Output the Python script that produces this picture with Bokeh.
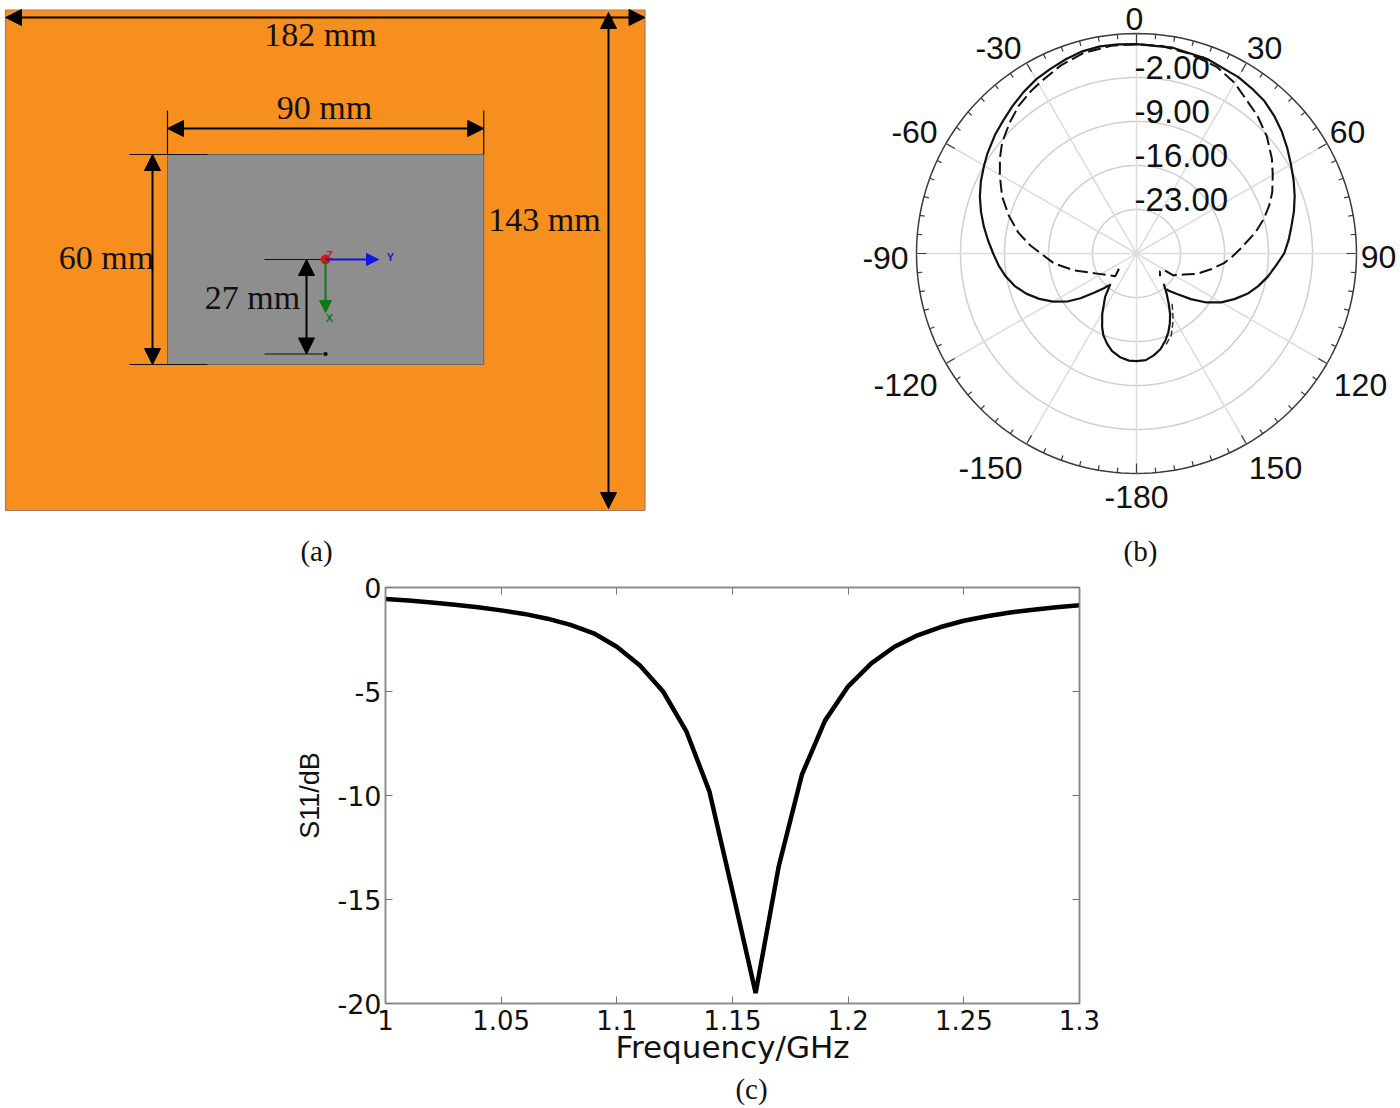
import numpy as np
from bokeh.embed import file_html
from bokeh.resources import INLINE
from bokeh.plotting import figure
from bokeh.layouts import column, row
from bokeh.models import Range1d, Arrow, NormalHead, LinearAxis, FixedTicker
from bokeh.core.properties import value

# ---- panel (c) data
freq = [1.0,1.01,1.02,1.03,1.04,1.05,1.06,1.07,1.08,1.09,1.10,1.11,1.12,1.13,1.14,1.15,1.16,
        1.17,1.18,1.19,1.20,1.21,1.22,1.23,1.24,1.25,1.26,1.27,1.28,1.29,1.30]
s11 = [-0.55,-0.63,-0.72,-0.83,-0.95,-1.10,-1.27,-1.50,-1.80,-2.20,-2.85,-3.75,-5.0,-6.9,-9.8,-14.6,-19.5,
       -13.4,-9.0,-6.4,-4.75,-3.65,-2.85,-2.3,-1.9,-1.6,-1.38,-1.2,-1.07,-0.95,-0.85]
x_ticks = [1.0,1.05,1.1,1.15,1.2,1.25,1.3]
x_tick_labels = ["1","1.05","1.1","1.15","1.2","1.25","1.3"]
y_ticks = [-20,-15,-10,-5,0]
y_tick_labels = ["-20","-15","-10","-5","0"]

# ---- panel (b) data: angle in degrees (clockwise from top), gain in dB
main_ang = [-139,-136.7,-133,-128.6,-125,-120,-115,-110,-105,-100,-95,-90,-85,-80,-75,-70,-65,-60,-56,-50,-45,-40,-35,-30,
            -25,-20,-15,-10,-5,0,10,20,30,35,40,45,50,55,60,65,70,75,80,85,90,95,100,105,110,115,120,125,130,135,139,140]
main_db = [-23.3,-22.42,-20.88,-18.6,-16.74,-14.67,-12.92,-11.33,-9.95,-8.89,-7.99,-7.2,-6.30,-5.34,-4.39,-3.48,-2.69,-2.0,-1.42,-0.62,-0.04,0.65,1.34,1.98,
           2.40,2.88,3.30,3.46,3.41,3.30,3.25,2.93,2.40,2.03,1.66,0.97,0.17,-0.73,-1.63,-2.42,-3.22,-4.07,-4.97,-5.71,-6.51,-7.73,-8.79,-9.95,-11.23,-12.82,-14.46,-16.42,-18.7,-20.88,-22.15,-22.6]
lobe_ang = [-139.4,-144,-150.4,-155,-158,-162,-166,-171,-176,180,175,170.4,166,161.6,158,154.6,151,147.3,143,138]
lobe_db = [-23.64,-21.52,-18.97,-17.06,-15.95,-14.89,-13.98,-13.3,-12.92,-12.87,-12.98,-13.56,-14.3,-15.42,-16.48,-17.64,-18.97,-20.51,-22.05,-23.53]
dash_ang = [-131,-137,-117,-105,-96.7,-85.7,-80,-73.4,-67,-60.3,-55,-50.4,-44,-38.5,-33,-28.6,-22,-15,-7,0,7,15,23.4,30,41.2,48,55,60,65.7,70,74.8,80,87.4,92,96.3,102,108.5,114,120.6,121,127,134]
dash_db = [-26.29,-25.07,-22.95,-19.66,-16.74,-13.08,-10.91,-8.79,-6.77,-4.97,-3.48,-2.27,-0.99,0.07,0.81,1.34,2.24,2.98,3.30,3.30,3.25,2.88,2.30,1.29,-0.83,-2.11,-3.70,-4.97,-6.30,-7.52,-9.0,-10.80,-13.45,-14.78,-16.0,-17.91,-19.82,-21.78,-23.19,-24.8,-25.33,-24.8]
dash_lobe_ang = [144.7,151.3,157,162.5]
dash_lobe_db = [-20.19,-17.86,-15.84,-14.67]
ring_db = [-23,-16,-9,-2,5]
ring_labels = ["-23.00","-16.00","-9.00","-2.00"]
angle_ticks = [0,30,60,90,120,150,180,-150,-120,-90,-60,-30]
angle_labels = ["0","30","60","90","120","150","-180","-150","-120","-90","-60","-30"]
# where the angle labels sit on the page, px
angle_label_px = [1134,1264,1347,1378,1360,1275,1136,990,905,885,914,998]
angle_label_py = [18,47,131,256,384,467,496,467,384,257,131,47]

# ---- panel (a) data, mm
ground = (182, 143)
patch = (90, 60)
feed_offset = 27

FONT = value("Liberation Sans")
SERIF = value("Liberation Serif")

def blank(w, h, xr, yr):
    p = figure(width=w, height=h, x_range=Range1d(*xr), y_range=Range1d(*yr), output_backend="svg",
               toolbar_location=None, min_border=0, outline_line_color=None, background_fill_color="white")
    p.axis.visible = False
    p.grid.visible = False
    return p

# ================= (a)
sxa, sya = 639.5/182, 500.5/143
pa = blank(700, 570, (-5/sxa, 695/sxa), (-60/sya, 510/sya))
px = lambda v: (v-5)/sxa
py = lambda v: (510-v)/sya
pa.quad(left=[0], right=[ground[0]], bottom=[0], top=[ground[1]], fill_color="#F78F1E", line_color="#B07A55", line_width=1.2)
pxl, pyb = px(167), py(364)
pa.quad(left=[pxl], right=[pxl+patch[0]], bottom=[pyb], top=[pyb+patch[1]], fill_color="#8E8E8E", line_color="#666666", line_width=1)
oy = py(259)
ox = px(325)
pa.segment(x0=[px(129),px(129),pxl,pxl+patch[0],px(264),px(264)],
           y0=[pyb+patch[1],pyb,pyb+patch[1],pyb+patch[1],oy,oy-feed_offset],
           x1=[px(207),px(207),pxl,pxl+patch[0],ox,px(322)],
           y1=[pyb+patch[1],pyb,py(110),py(110),oy,oy-feed_offset],
           line_color="#111111", line_width=1.2)

def arrow2(x0, y0, x1, y1, size=16):
    h1 = NormalHead(size=size, fill_color="black", line_color="black")
    h2 = NormalHead(size=size, fill_color="black", line_color="black")
    pa.add_layout(Arrow(start=h1, end=h2, x_start=x0, y_start=y0, x_end=x1, y_end=y1, line_color="black", line_width=2))

arrow2(0, py(17), ground[0], py(17))
arrow2(px(608), py(12), px(608), py(508))
arrow2(pxl, py(128), pxl+patch[0], py(128))
arrow2(px(152), pyb+patch[1], px(152), pyb)
arrow2(px(306), oy, px(306), oy-feed_offset)
pa.add_layout(Arrow(end=NormalHead(size=12, fill_color="#1515E0", line_color="#1515E0"), x_start=ox, y_start=oy, x_end=px(378), y_end=oy, line_color="#1515E0", line_width=2))
pa.add_layout(Arrow(end=NormalHead(size=12, fill_color="#0B7A16", line_color="#0B7A16"), x_start=ox, y_start=oy, x_end=ox, y_end=py(312), line_color="#0B7A16", line_width=2))
pa.scatter(x=[ox], y=[oy], size=9, color="#E01010")
pa.scatter(x=[ox], y=[oy-feed_offset], size=3.5, color="#111111")
pa.text(x=[px(390),px(329),px(329)], y=[py(256),py(317),py(254)], text=["Y","X","Z"],
        text_color=["#1515E0","#0B7A16","#E01010"], text_font=FONT, text_font_size="11px", text_font_style="bold",
        text_align="center", text_baseline="middle")
pa.text(x=[px(320),px(324),px(544),px(106),px(252)], y=[py(34),py(107),py(219),py(257),py(297)],
        text=["182 mm","90 mm","143 mm","60 mm","27 mm"], text_font=SERIF, text_font_size="34px",
        text_align="center", text_baseline="middle", text_color="#111111")
pa.text(x=[px(316)], y=[py(550)], text=["(a)"], text_font=SERIF, text_font_size="29px",
        text_align="center", text_baseline="middle", text_color="#111111")

# ================= (b)
S = 44/7           # px per dB
CX, CY = 1136, 253
pb = blank(700, 570, ((700-CX)/S, (1400-CX)/S), ((CY-570)/S, CY/S))
def polar(ang, db):
    a = np.radians(np.asarray(ang, float)); r = np.asarray(db, float)+30
    return r*np.sin(a), r*np.cos(a)
theta = np.arange(0, 361, 2.0)
for d in ring_db:
    x, y = polar(theta, np.full_like(theta, d))
    pb.line(x, y, line_color="#3a3a3a" if d == ring_db[-1] else "#cfcfcf", line_width=1.5)
xs, ys = polar(angle_ticks, [ring_db[-1]]*len(angle_ticks))
pb.segment(x0=[0]*len(xs), y0=[0]*len(ys), x1=xs, y1=ys, line_color="#dcdcdc", line_width=1.5)
tk = np.arange(-180, 180, 5.0)
inner = np.where(tk % 30 == 0, ring_db[-1]-10/S, ring_db[-1]-5/S)
x0, y0 = polar(tk, inner)
x1, y1 = polar(tk, [ring_db[-1]]*len(tk))
pb.segment(x0=x0, y0=y0, x1=x1, y1=y1, line_color="#3a3a3a", line_width=1.2)
x, y = polar(main_ang, main_db); pb.line(x, y, line_color="#111111", line_width=2.2, line_join="round")
x, y = polar(lobe_ang, lobe_db); pb.line(x, y, line_color="#111111", line_width=2.2, line_join="round")
x, y = polar(dash_ang, dash_db); pb.line(x, y, line_color="#111111", line_width=2, line_dash="13 5")
x, y = polar(dash_lobe_ang, dash_lobe_db); pb.line(x, y, line_color="#333333", line_width=1.5, line_dash="6 3")
lx = [(v-CX)/S for v in angle_label_px]
ly = [(CY-v)/S for v in angle_label_py]
pb.text(x=lx, y=ly, text=angle_labels, text_font=FONT, text_font_size="32px", text_align="center",
        text_baseline="middle", text_color="#111111")
pb.text(x=[-0.3]*4, y=[d+30+9/S+0.2 for d in ring_db[:4]], text=ring_labels, text_font=FONT, text_font_size="33px",
        text_align="left", text_baseline="middle", text_color="#111111")
pb.text(x=[(1140-CX)/S], y=[(CY-550)/S], text=["(b)"], text_font=SERIF, text_font_size="29px",
        text_align="center", text_baseline="middle", text_color="#111111")

# ================= (c)
pc = figure(width=1400, height=538, x_range=Range1d(1.0, 1.3), y_range=Range1d(-20, 0), output_backend="svg",
            toolbar_location=None, min_border_left=385, min_border_right=321, min_border_top=17, min_border_bottom=105,
            outline_line_color="#888888", outline_line_width=1.5, background_fill_color="white")
pc.grid.visible = False
xa, ya = pc.xaxis[0], pc.yaxis[0]
xa.ticker = FixedTicker(ticks=x_ticks)
xa.major_label_overrides = dict(zip(x_ticks, x_tick_labels))
ya.ticker = FixedTicker(ticks=y_ticks)
ya.major_label_overrides = dict(zip(y_ticks, y_tick_labels))
for ax in (xa, ya):
    ax.major_tick_in = 7; ax.major_tick_out = 0; ax.minor_tick_in = 0; ax.minor_tick_out = 0
    ax.major_tick_line_color = "#777777"; ax.axis_line_color = "#888888"; ax.axis_line_width = 1.5
    ax.major_label_text_color = "#111111"; ax.axis_label_text_color = "#111111"
    ax.major_label_text_font = "DejaVu Sans"
    ax.axis_label_text_font_style = "normal"
xa.major_label_text_font_size = "26px"
ya.major_label_text_font_size = "27px"
xa.major_label_standoff = 6
ya.major_label_standoff = 4
xa.axis_label = "Frequency/GHz"
xa.axis_label_text_font = "DejaVu Sans"; xa.axis_label_text_font_size = "31px"
xa.axis_label_standoff = -4
ya.axis_label = "S11/dB"
ya.axis_label_text_font = "Liberation Sans"; ya.axis_label_text_font_size = "27px"
ya.axis_label_standoff = 9
for side in ("above", "right"):
    ax = LinearAxis(ticker=FixedTicker(ticks=x_ticks if side == "above" else y_ticks), major_label_text_font_size="0px",
                    major_tick_in=7, major_tick_out=0, minor_tick_in=0, minor_tick_out=0, major_label_standoff=0,
                    major_tick_line_color="#777777", axis_line_color="#888888", axis_line_width=1.5,
                    major_label_text_color=None)
    pc.add_layout(ax, side)
pc.line(freq, s11, line_color="black", line_width=4.5)
pc.text(x=[1.0+(751-385)/694*0.3], y=[-20-(1088-1003)/416*20], text=["(c)"], text_font=SERIF, text_font_size="29px",
        text_align="center", text_baseline="middle", text_color="#111111", level="annotation")

layout = column(row(pa, pb, spacing=0), pc, spacing=0)
open("out.html", "w").write(file_html(layout, INLINE))
